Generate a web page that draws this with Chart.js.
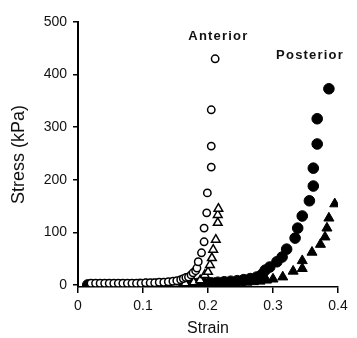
<!DOCTYPE html>
<html>
<head>
<meta charset="utf-8">
<script src="https://cdn.jsdelivr.net/npm/chart.js@4/dist/chart.umd.min.js"></script>
<style>
  html, body { margin: 0; padding: 0; background: #fff; }
  #wrap { width: 357px; height: 338px; }
</style>
</head>
<body>
<div id="wrap"><canvas id="chart"></canvas></div>
<script>
// stress-strain, anterior vs posterior

const xTicks = [0, 0.1, 0.2, 0.3, 0.4];
const yTicks = [0, 100, 200, 300, 400, 500];

const antCircleX = [0.020, 0.027, 0.034, 0.041, 0.048, 0.055, 0.062, 0.069, 0.076, 0.083, 0.090, 0.097, 0.104, 0.111, 0.118, 0.125, 0.132, 0.139, 0.146, 0.152, 0.158, 0.162, 0.166, 0.170, 0.174, 0.177, 0.181, 0.183, 0.185, 0.190, 0.194, 0.194, 0.198, 0.199, 0.205, 0.205, 0.205, 0.211];
const antCircleY = [3, 3, 3, 3, 3, 3, 3, 3, 3, 3, 3, 3, 4, 4, 4, 5, 5, 6, 7, 8, 10, 12, 14, 15, 19, 23, 27, 32, 44, 61, 82, 108, 137, 175, 224, 264, 333, 430];

const antTriX = [0.150, 0.165, 0.178, 0.188, 0.195, 0.200, 0.203, 0.206, 0.208, 0.212, 0.215, 0.215, 0.216];
const antTriY = [2, 3, 5, 9, 19, 25, 38, 51, 67, 86, 118, 133, 145];

const postCircleX = [0.015, 0.025, 0.035, 0.045, 0.055, 0.065, 0.075, 0.085, 0.095, 0.105, 0.115, 0.125, 0.135, 0.145, 0.155, 0.165, 0.175, 0.185, 0.195, 0.205, 0.215, 0.225, 0.235, 0.245, 0.255, 0.265, 0.275, 0.283, 0.288, 0.295, 0.306, 0.314, 0.321, 0.334, 0.338, 0.345, 0.356, 0.362, 0.362, 0.368, 0.368, 0.386];
const postCircleY = [0, 0, 0, 0, 0, 0, 0, 0, 1, 1, 1, 1, 1, 2, 2, 2, 2, 3, 3, 4, 5, 6, 7, 8, 10, 12, 15, 20, 28, 34, 44, 53, 68, 89, 108, 131, 160, 188, 222, 268, 316, 373];

const postTriX = [0.020, 0.030, 0.040, 0.050, 0.060, 0.070, 0.080, 0.090, 0.100, 0.110, 0.120, 0.130, 0.140, 0.150, 0.160, 0.170, 0.180, 0.190, 0.200, 0.210, 0.220, 0.230, 0.240, 0.250, 0.260, 0.270, 0.280, 0.290, 0.300, 0.315, 0.331, 0.345, 0.345, 0.360, 0.373, 0.380, 0.383, 0.386, 0.395];
const postTriY = [0, 0, 0, 0, 0, 0, 0, 0, 0, 0, 1, 1, 1, 1, 1, 2, 2, 2, 2, 3, 3, 3, 4, 4, 5, 6, 7, 9, 11, 15, 26, 31, 46, 62, 77, 91, 108, 127, 154];

const groupLabels = [
  { text: 'Anterior', x: 0.216, y: 473 },
  { text: 'Posterior', x: 0.357, y: 437 }
];

const FONT = '"Liberation Sans", Arial, Helvetica, sans-serif';

function pts(xs, ys) {
  return xs.map((x, i) => ({ x: x, y: ys[i] }));
}

const labelPlugin = {
  id: 'groupLabels',
  afterDatasetsDraw(chart) {
    const ctx = chart.ctx;
    const xs = chart.scales.x, ys = chart.scales.y;
    ctx.save();
    ctx.font = 'bold 13px ' + FONT;
    ctx.fillStyle = '#111';
    ctx.textAlign = 'center';
    ctx.textBaseline = 'middle';
    if ('letterSpacing' in ctx) ctx.letterSpacing = '1.2px';
    groupLabels.forEach(l => {
      ctx.fillText(l.text, xs.getPixelForValue(l.x), ys.getPixelForValue(l.y));
    });
    ctx.restore();
  }
};

// first dataset is painted last (on top)
new Chart(document.getElementById('chart'), {
  type: 'scatter',
  data: {
    datasets: [
      {
        label: 'Anterior circles',
        data: pts(antCircleX, antCircleY),
        pointStyle: 'circle',
        pointRadius: 3.7,
        borderColor: '#000',
        backgroundColor: '#fff',
        borderWidth: 1.5
      },
      {
        label: 'Anterior triangles',
        data: pts(antTriX, antTriY),
        pointStyle: 'triangle',
        pointRadius: 5,
        borderColor: '#000',
        backgroundColor: '#fff',
        borderWidth: 1.5
      },
      {
        label: 'Posterior circles',
        data: pts(postCircleX, postCircleY),
        pointStyle: 'circle',
        pointRadius: 5.3,
        borderColor: '#000',
        backgroundColor: '#000',
        borderWidth: 1
      },
      {
        label: 'Posterior triangles',
        data: pts(postTriX, postTriY),
        pointStyle: 'triangle',
        pointRadius: 5.8,
        borderColor: '#000',
        backgroundColor: '#000',
        borderWidth: 1
      }
    ]
  },
  options: {
    responsive: true,
    maintainAspectRatio: false,
    animation: false,
    events: [],
    layout: { padding: { top: 22, right: 19, bottom: 0, left: 0 } },
    plugins: {
      legend: { display: false },
      tooltip: { enabled: false }
    },
    scales: {
      x: {
        type: 'linear',
        min: 0,
        max: 0.4,
        afterFit: s => { s.height = 51; },
        afterBuildTicks: s => { s.ticks = xTicks.map(v => ({ value: v })); },
        border: { display: true, color: '#000', width: 1.5 },
        grid: { drawOnChartArea: false, drawTicks: true, tickLength: 6, color: '#000', lineWidth: 1.5 },
        ticks: {
          color: '#111',
          padding: 5,
          font: { family: FONT, size: 14 },
          callback: v => String(v)
        },
        title: {
          display: true,
          text: 'Strain',
          color: '#111',
          padding: 0,
          font: { family: FONT, size: 16 }
        }
      },
      y: {
        type: 'linear',
        min: -4,
        max: 500,
        afterFit: s => { s.width = 78; },
        afterBuildTicks: s => { s.ticks = yTicks.map(v => ({ value: v })); },
        border: { display: true, color: '#000', width: 2 },
        grid: { drawOnChartArea: false, drawTicks: true, tickLength: 5, color: '#000', lineWidth: 1.5 },
        ticks: {
          color: '#111',
          padding: 6,
          font: { family: FONT, size: 14 }
        },
        title: {
          display: true,
          text: 'Stress (kPa)',
          color: '#111',
          padding: { top: 8, bottom: 0 },
          font: { family: FONT, size: 18 }
        }
      }
    }
  },
  plugins: [labelPlugin]
});
</script>
</body>
</html>
